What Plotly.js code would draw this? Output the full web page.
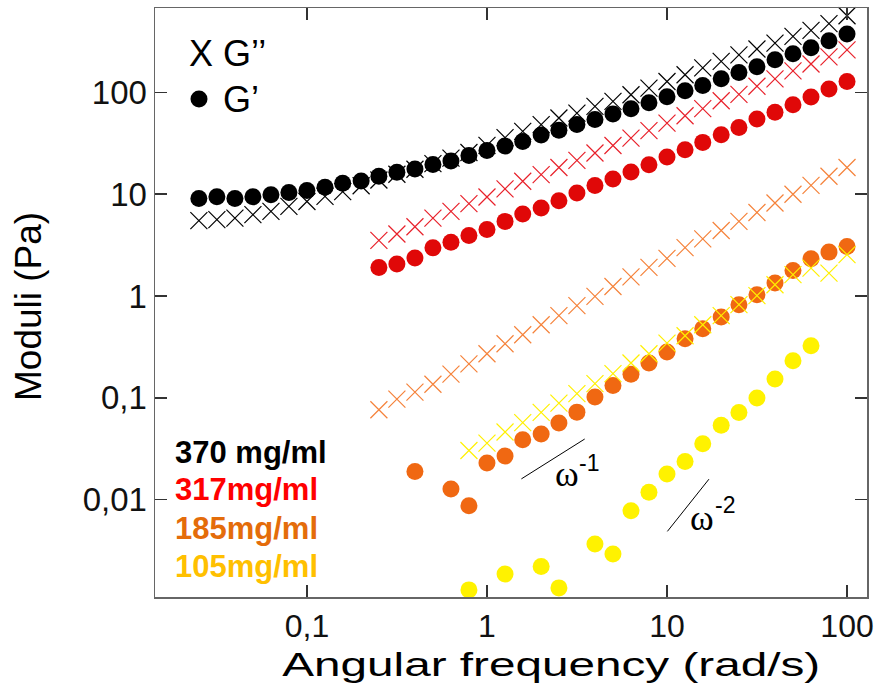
<!DOCTYPE html>
<html>
<head>
<meta charset="utf-8">
<script src="https://cdn.plot.ly/plotly-3.0.1.min.js"></script>
<style>html,body{margin:0;padding:0;background:#fff;}#chart{width:879px;height:693px;}</style>
</head>
<body>
<div id="chart"></div>
<script>
// ---- frequencies (rad/s) ----
const freq370 = [0.0251,0.0316,0.0398,0.0501,0.0631,0.0794,0.1,0.126,0.158,0.2,0.251,0.316,0.398,0.501,0.631,0.794,1,1.26,1.58,2,2.51,3.16,3.98,5.01,6.31,7.94,10,12.6,15.8,20,25.1,31.6,39.8,50.1,63.1,79.4,100];
const freq317 = [0.251,0.316,0.398,0.501,0.631,0.794,1,1.26,1.58,2,2.51,3.16,3.98,5.01,6.31,7.94,10,12.6,15.8,20,25.1,31.6,39.8,50.1,63.1,79.4,100];
const freq185G2 = [0.251,0.316,0.398,0.501,0.631,0.794,1,1.26,1.58,2,2.51,3.16,3.98,5.01,6.31,7.94,10,12.6,15.8,20,25.1,31.6,39.8,50.1,63.1,79.4,100];
const freq185G1 = [0.398,0.631,0.794,1,1.26,1.58,2,2.51,3.16,3.98,5.01,6.31,7.94,10,12.6,15.8,20,25.1,31.6,39.8,50.1,63.1,79.4,100];
const freq105G2 = [0.794,1,1.26,1.58,2,2.51,3.16,3.98,5.01,6.31,7.94,10,12.6,15.8,20,25.1,31.6,39.8,50.1,63.1,79.4,100];
const freq105G1 = [0.794,1.26,2,2.51,3.98,5.01,6.31,7.94,10,12.6,15.8,20,25.1,31.6,39.8,50.1,63.1];

// ---- moduli (Pa) ----
const g1_370 = [9.10,9.44,9.10,9.44,9.89,10.4,10.9,11.7,12.8,13.5,15.0,16.4,17.7,19.6,21.2,24.0,26.9,29.7,33.0,38.1,42.4,48.5,54.3,61.4,69.2,79.3,90.8,104,117,136,157,179,209,240,275,322,375];
const g2_370 = [5.50,5.62,5.83,6.30,6.78,7.59,8.49,9.51,10.6,12.1,13.8,15.7,17.6,20.0,22.6,25.7,30.2,35.9,41.4,48.2,56.0,62.7,72.8,81.7,94.8,110,128,149,174,202,234,267,305,355,406,473,566];
const g1_317 = [1.91,2.06,2.36,2.98,3.37,3.93,4.51,5.41,6.38,7.31,8.63,10.3,12.2,14.1,16.5,19.5,23.2,27.4,32.3,38.4,45.3,54.8,63.7,75.7,90.2,108,128];
const g2_317 = [3.52,4.07,4.79,5.83,6.78,8.07,9.40,11.3,13.4,15.6,18.3,21.5,25.4,30.1,35.6,42.1,50.0,59.0,69.2,82.8,95.5,115,136,163,190,223,262];
const g1_185 = [0.0189,0.0127,0.00873,0.0229,0.0268,0.0387,0.0442,0.0565,0.0724,0.102,0.132,0.171,0.220,0.282,0.381,0.478,0.622,0.822,1.03,1.34,1.78,2.32,2.70,3.07];
const g2_185 = [0.0764,0.0973,0.114,0.136,0.171,0.216,0.271,0.340,0.417,0.522,0.641,0.804,0.991,1.24,1.54,1.91,2.34,2.99,3.64,4.40,5.41,6.62,8.20,10.0,12.2,15.0,18.3];
const g1_105 = [0.00130,0.00186,0.00221,0.00136,0.00366,0.00292,0.00778,0.0118,0.0179,0.0237,0.0354,0.0538,0.0719,0.0995,0.153,0.231,0.325];
const g2_105 = [0.0304,0.0359,0.0462,0.0571,0.0719,0.0889,0.110,0.138,0.173,0.220,0.271,0.345,0.407,0.522,0.641,0.822,1.01,1.29,1.62,1.88,1.68,2.55];

// ---- slope guide lines ----
const slope1X = [1.553, 3.49];
const slope1Y = [0.0160, 0.0394];
const slope2X = [10.05, 17.1];
const slope2Y = [0.00488, 0.0159];

// ---- tick labels ----
const xTickVals = [0.1, 1, 10, 100];
const xTickText = ['0,1', '1', '10', '100'];
const yTickVals = [0.01, 0.1, 1, 10, 100];
const yTickText = ['0,01', '0,1', '1', '10', '100'];

const concLabels = ['370 mg/ml', '317mg/ml', '185mg/ml', '105mg/ml'];

const FONT = 'Liberation Sans, Arial, sans-serif';

function crosses(x, y, color) {
  return {x: x, y: y, type: 'scatter', mode: 'markers', hoverinfo: 'skip', cliponaxis: false,
    marker: {symbol: 'x-thin-open', size: 17, color: color, line: {color: color, width: 1.2}}};
}
function dots(x, y, color) {
  return {x: x, y: y, type: 'scatter', mode: 'markers', hoverinfo: 'skip', cliponaxis: false,
    marker: {symbol: 'circle', size: 17, color: color, line: {width: 0}}};
}
function guide(x, y) {
  return {x: x, y: y, type: 'scatter', mode: 'lines', hoverinfo: 'skip',
    line: {color: '#000', width: 1}};
}

const data = [
  crosses(freq370, g2_370, '#000000'),
  dots(freq370, g1_370, '#000000'),
  crosses(freq317, g2_317, '#e8202a'),
  dots(freq317, g1_317, '#e00808'),
  crosses(freq185G2, g2_185, '#f5823a'),
  dots(freq185G1, g1_185, '#f06812'),
  crosses(freq105G2, g2_105, '#fff000'),
  dots(freq105G1, g1_105, '#fff200'),
  guide(slope1X, slope1Y),
  guide(slope2X, slope2Y)
];

// pixel helpers for paper placement of text
const L = 155, R = 867, T = 8, B = 597;
const px = v => (v - L) / (R - L);
const py = v => (B - v) / (B - T);

const annotations = [
  {text: 'Angular frequency (rad/s)', x: px(551), y: py(664), xref: 'paper', yref: 'paper',
   showarrow: false, xanchor: 'center', yanchor: 'middle', font: {family: FONT, size: 33, color: '#000'}},
  {text: 'Moduli (Pa)', x: px(28), y: py(307), xref: 'paper', yref: 'paper', textangle: -90,
   showarrow: false, xanchor: 'center', yanchor: 'middle', font: {family: FONT, size: 37, color: '#000'}},
  {text: 'X G\u2019\u2019', x: px(187), y: py(53), xref: 'paper', yref: 'paper',
   showarrow: false, xanchor: 'left', yanchor: 'middle', font: {family: FONT, size: 36, color: '#000'}},
  {text: 'G\u2019', x: px(221), y: py(99), xref: 'paper', yref: 'paper',
   showarrow: false, xanchor: 'left', yanchor: 'middle', font: {family: FONT, size: 36, color: '#000'}},
  {text: '\u03c9', x: px(567), y: py(474), xref: 'paper', yref: 'paper',
   showarrow: false, xanchor: 'center', yanchor: 'middle', font: {family: 'Liberation Serif, Times New Roman, serif', size: 36, color: '#000'}},
  {text: '-1', x: px(589), y: py(463), xref: 'paper', yref: 'paper',
   showarrow: false, xanchor: 'center', yanchor: 'middle', font: {family: FONT, size: 23, color: '#000'}},
  {text: '\u03c9', x: px(702), y: py(518), xref: 'paper', yref: 'paper',
   showarrow: false, xanchor: 'center', yanchor: 'middle', font: {family: 'Liberation Serif, Times New Roman, serif', size: 36, color: '#000'}},
  {text: '-2', x: px(725), y: py(505), xref: 'paper', yref: 'paper',
   showarrow: false, xanchor: 'center', yanchor: 'middle', font: {family: FONT, size: 23, color: '#000'}}
];
const concColors = ['#000000', '#ff0000', '#e46c0a', '#ffc000'];
const concY = [452, 490, 528, 566];
concLabels.forEach((t, i) => {
  annotations.push({text: '<b>' + t + '</b>', x: px(173), y: py(concY[i]), xref: 'paper', yref: 'paper',
    showarrow: false, xanchor: 'left', yanchor: 'middle', font: {family: FONT, size: 31, color: concColors[i]}});
});

const axisCommon = {
  type: 'log', showgrid: false, zeroline: false,
  showline: true, linecolor: '#666', linewidth: 1.5, mirror: 'ticks',
  ticks: 'inside', ticklen: 12, tickwidth: 1.5, tickcolor: '#333'
};

const layout = {
  width: 879, height: 693,
  margin: {l: L, r: 879 - R, t: T, b: 693 - B, pad: 0},
  paper_bgcolor: '#fff', plot_bgcolor: '#fff',
  showlegend: false,
  xaxis: Object.assign({}, axisCommon, {range: [-1.844, 2.111], tickvals: xTickVals, ticktext: xTickText,
    tickfont: {family: FONT, size: 32, color: '#111'}}),
  yaxis: Object.assign({}, axisCommon, {range: [-2.956, 2.829], tickvals: yTickVals, ticktext: yTickText,
    tickfont: {family: FONT, size: 33, color: '#111'}}),
  shapes: [
    {type: 'circle', xref: 'paper', yref: 'paper', x0: px(190.5), x1: px(207.5), y0: py(107.5), y1: py(90.5),
     fillcolor: '#000', line: {width: 0}}
  ],
  annotations: annotations
};

Plotly.newPlot('chart', data, layout, {displayModeBar: false, staticPlot: true}).then(function () {
  document.querySelectorAll('.annotation-text').forEach(function (el) {
    if (el.textContent === 'Angular frequency (rad/s)') {
      el.setAttribute('textLength', '538');
      el.setAttribute('lengthAdjust', 'spacingAndGlyphs');
    }
  });
});
</script>
</body>
</html>
